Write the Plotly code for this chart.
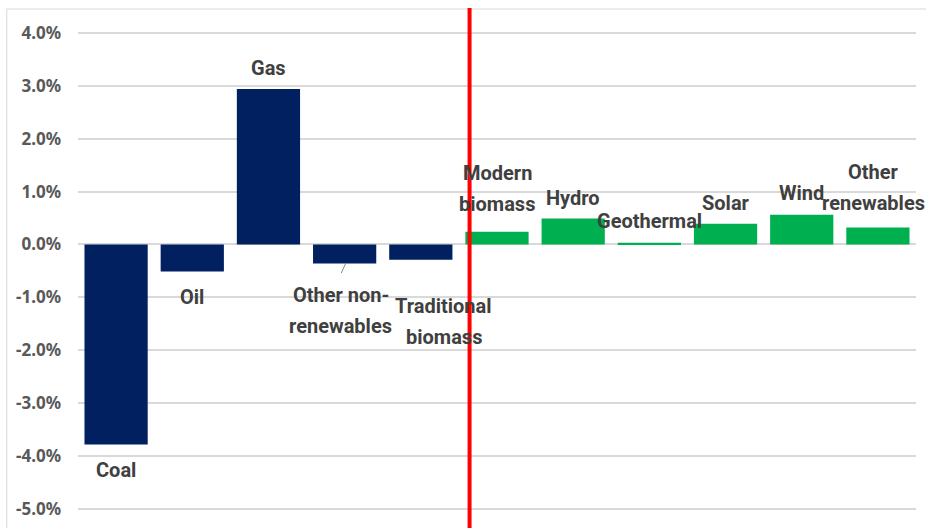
import plotly.graph_objects as go

categories = ["Coal", "Oil", "Gas", "Other non-<br>renewables", "Traditional<br>biomass",
              "Modern<br>biomass", "Hydro", "Geothermal", "Solar", "Wind", "Other<br>renewables"]
values = [-3.78, -0.51, 2.94, -0.36, -0.29, 0.24, 0.49, 0.03, 0.39, 0.56, 0.32]
group = ["non", "non", "non", "non", "non", "ren", "ren", "ren", "ren", "ren", "ren"]
tick_vals = [4, 3, 2, 1, 0, -1, -2, -3, -4, -5]
tick_text = ["4.0%", "3.0%", "2.0%", "1.0%", "0.0%", "-1.0%", "-2.0%", "-3.0%", "-4.0%", "-5.0%"]
divider_pos = 4.64

# label offsets (pixels) relative to bar end
label_dy = [-26, -26, 21, -47, -62, 43, 21, 22, 21, 22, 40]
label_dx = [0, 0, 0, -4, 23, 0, 0, 0, 0, 0, -4]
line_gap = 31

colors = {"non": "#002060", "ren": "#00B050"}
xs = list(range(len(categories)))

fig = go.Figure()
fig.add_trace(go.Bar(
    x=xs, y=values,
    marker=dict(color=[colors[g] for g in group], line=dict(width=0)),
    width=0.83, hoverinfo="skip", showlegend=False,
))

label_font = dict(family="Roboto, sans-serif", size=20, color="#404040", weight="bold")
for i, (c, v) in enumerate(zip(categories, values)):
    lines = c.split("<br>")
    n = len(lines)
    for j, ln in enumerate(lines):
        dy = label_dy[i] + ((n - 1) / 2 - j) * line_gap
        fig.add_annotation(x=xs[i], y=v, text=ln, showarrow=False, xanchor="center",
                           yanchor="middle", yshift=dy, xshift=label_dx[i],
                           font=label_font)

# leader line for Other non-renewables
fig.add_annotation(x=xs[3], y=values[3], ax=-5, ay=11, axref="pixel", ayref="pixel",
                   xshift=1, text="", showarrow=True, arrowhead=0, arrowwidth=1,
                   arrowcolor="#8c8c8c")

fig.add_shape(type="line", xref="x", yref="paper", x0=divider_pos, x1=divider_pos,
              y0=0, y1=1, line=dict(color="#FF0000", width=4), layer="above")
fig.add_shape(type="rect", xref="paper", yref="paper", x0=-0.085, x1=1.3, y0=-0.3, y1=0.998,
              line=dict(color="#D9D9D9", width=1), layer="below")

fig.update_layout(
    width=926, height=528,
    margin=dict(l=78, r=10, t=8, b=0, autoexpand=False),
    paper_bgcolor="white", plot_bgcolor="white",
    bargap=0.17,
    xaxis=dict(range=[-0.5, 10.5], showticklabels=False, showgrid=False, zeroline=False,
               showline=False, ticks=""),
    yaxis=dict(range=[-5.36, 4.47], tickvals=tick_vals, ticktext=tick_text,
               showgrid=True, gridcolor="#D9D9D9", gridwidth=1.5, zeroline=True,
               zerolinecolor="#D9D9D9", zerolinewidth=1.5, showline=False, ticks="",
               ticklabelstandoff=16,
               tickfont=dict(family="Noto Sans, sans-serif", size=17, color="#595959",
                             weight="bold")),
)

fig.write_html("out.html", config={"displayModeBar": False},
               post_script="document.body.style.margin='0';")
